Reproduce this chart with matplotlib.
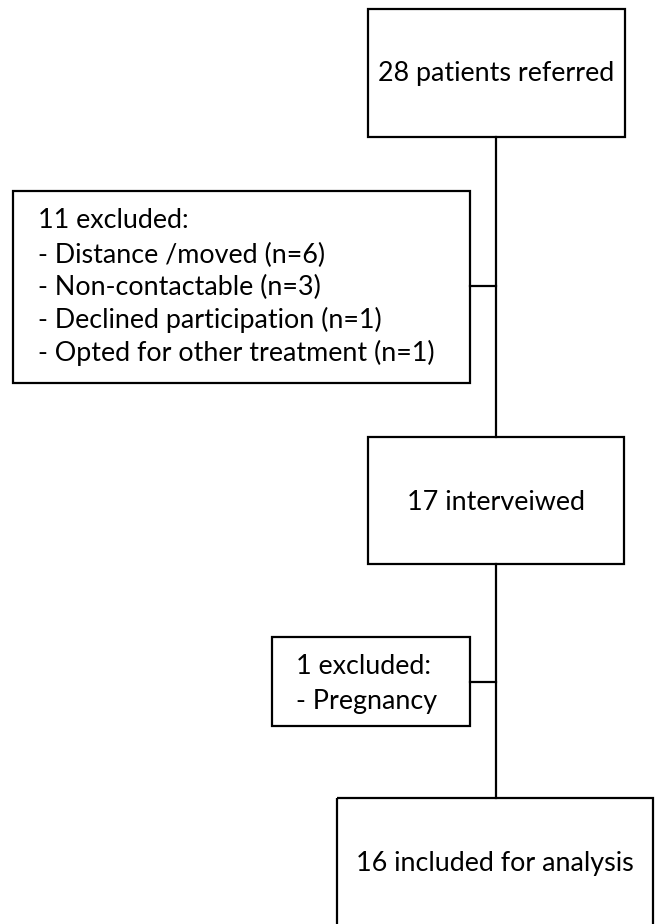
import matplotlib.pyplot as plt
from matplotlib.patches import Rectangle

# Flowchart text
main_steps = ["28 patients referred", "17 interveiwed", "16 included for analysis"]
excl_1 = ["11 excluded:",
          "- Distance /moved (n=6)",
          "- Non-contactable (n=3)",
          "- Declined participation (n=1)",
          "- Opted for other treatment (n=1)"]
excl_2 = ["1 excluded:", "- Pregnancy"]

# layout in pixel units (x0, y0, x1, y1)
main_boxes = [(368, 9, 625, 137), (368, 437, 624, 564), (337, 798, 653, 935)]
main_text_y = [73, 502, 863]
excl_boxes = [(13, 191, 470, 383), (272, 637, 470, 726)]
excl_text_x = [38, 296]
excl_text_y = [[220, 255, 287, 320, 353], [667, 702]]
connect_y = [286, 682]
spine_x = 496

plt.rcParams['font.family'] = ['Lato', 'DejaVu Sans']
fig = plt.figure(figsize=(6.55, 9.24), dpi=100)
ax = fig.add_axes([0, 0, 1, 1])
ax.set_xlim(0, 655)
ax.set_ylim(924, 0)
ax.axis('off')

lw = 1.6
fs = 19.4

def box(b):
    ax.add_patch(Rectangle((b[0], b[1]), b[2] - b[0], b[3] - b[1],
                           fill=False, edgecolor='black', linewidth=lw))

# main boxes
for b, label, ty in zip(main_boxes, main_steps, main_text_y):
    box(b)
    ax.text((b[0] + b[2]) / 2, ty, label, ha='center', va='center', fontsize=fs)

# spine between main boxes
for i in range(len(main_boxes) - 1):
    ax.plot([spine_x, spine_x], [main_boxes[i][3], main_boxes[i + 1][1]],
            color='black', linewidth=lw)

# exclusion boxes
for b, lines, tx, tys, cy in zip(excl_boxes, [excl_1, excl_2], excl_text_x, excl_text_y, connect_y):
    box(b)
    for line, ty in zip(lines, tys):
        ax.text(tx, ty, line, ha='left', va='center', fontsize=fs)
    ax.plot([b[2], spine_x], [cy, cy], color='black', linewidth=lw)

fig.savefig('out.png', dpi=100)
